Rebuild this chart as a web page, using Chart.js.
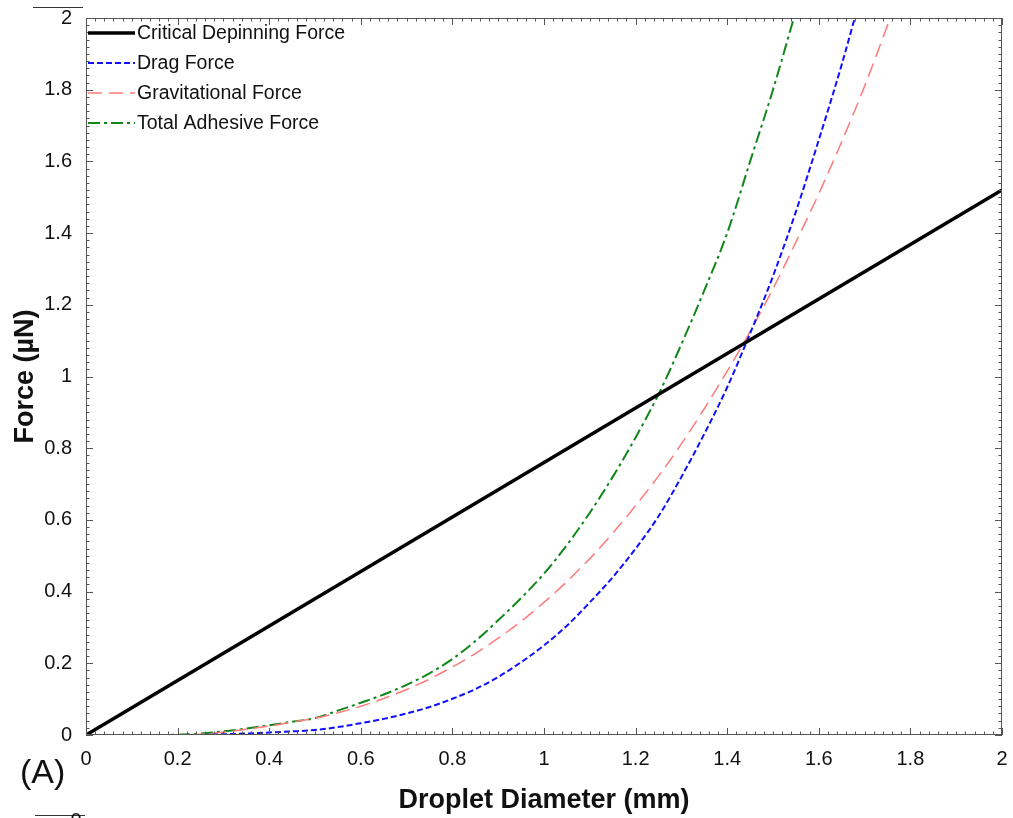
<!DOCTYPE html>
<html lang="en">
<head>
<meta charset="UTF-8">
<title>Forces vs Droplet Diameter</title>
<script src="https://cdn.jsdelivr.net/npm/chart.js"></script>
<style>
    body { margin: 0; background: #fff; }
    canvas { display: block; }
</style>
</head>
<body>
<canvas id="forceChart" width="1013" height="818"></canvas>
<script>
// droplet diameter (mm)
var diameter = [0, 0.05, 0.1, 0.15, 0.2, 0.25, 0.3, 0.35, 0.4, 0.45, 0.5, 0.55, 0.6, 0.65, 0.7, 0.75,
    0.8, 0.85, 0.9, 0.95, 1.0, 1.05, 1.1, 1.15, 1.2, 1.25, 1.3, 1.35, 1.4, 1.45, 1.5, 1.55,
    1.6, 1.65, 1.7, 1.75, 1.8];

// forces (uN)
var dragForce = [0, 0, 0, 0, 0, 0, 0.002, 0.004, 0.007, 0.01, 0.014, 0.022, 0.033, 0.045, 0.06, 0.078,
    0.101, 0.128, 0.162, 0.203, 0.25, 0.305, 0.37, 0.44, 0.52, 0.61, 0.72, 0.84, 0.97, 1.12, 1.28, 1.46,
    1.66, 1.87, 2.1, null, null];
var gravForce = [0, 0, 0, 0, 0, 0.002, 0.008, 0.016, 0.025, 0.036, 0.047, 0.062, 0.08, 0.102, 0.127, 0.156,
    0.19, 0.227, 0.27, 0.317, 0.37, 0.428, 0.492, 0.563, 0.64, 0.722, 0.812, 0.91, 1.015, 1.125, 1.245, 1.375,
    1.51, 1.655, 1.81, 1.98, 2.16];
var adhesiveForce = [0, 0, 0, 0, 0.001, 0.004, 0.01, 0.018, 0.027, 0.037, 0.047, 0.068, 0.09, 0.113, 0.14, 0.172,
    0.212, 0.262, 0.32, 0.382, 0.45, 0.53, 0.62, 0.72, 0.83, 0.95, 1.09, 1.24, 1.4, 1.6, 1.8, 2.02,
    2.24, null, null, null, null];

// critical depinning force is a straight line
var criticalX = [0, 2];
var criticalY = [0, 1.52];

var seriesNames = ['Critical Depinning Force', 'Drag Force', 'Gravitational Force', 'Total Adhesive Force'];

function pairs(xs, ys) {
    var out = [];
    for (var i = 0; i < xs.length; i++) out.push({ x: xs[i], y: ys[i] });
    return out;
}

// 2.0 -> "2", 0.2 -> "0.2"
function tickText(v) {
    return String(Number(v.toFixed(2)));
}

var FONT = 'Arial, "Liberation Sans", sans-serif';

// frame, inward minor/major ticks on all four sides, legend and panel letter
var decorations = {
    id: 'decorations',
    afterDraw: function (chart) {
        var ctx = chart.ctx;
        var a = chart.chartArea;
        var xs = chart.scales.x, ys = chart.scales.y;
        ctx.save();
        ctx.strokeStyle = '#555';
        ctx.lineWidth = 1;
        ctx.strokeRect(a.left + 0.5, a.top + 0.5, a.right - a.left - 1, a.bottom - a.top - 1);

        ctx.beginPath();
        for (var i = 0; i <= 100; i++) {
            var v = i * 0.02;
            var len = (i % 10 === 0) ? 7 : 3.5;
            var px = Math.round(xs.getPixelForValue(v)) + 0.5;
            ctx.moveTo(px, a.bottom); ctx.lineTo(px, a.bottom - len);
            ctx.moveTo(px, a.top); ctx.lineTo(px, a.top + len);
            var py = Math.round(ys.getPixelForValue(v)) + 0.5;
            ctx.moveTo(a.left, py); ctx.lineTo(a.left + len, py);
            ctx.moveTo(a.right, py); ctx.lineTo(a.right - len, py);
        }
        ctx.stroke();

        // legend
        var ds = chart.data.datasets;
        ctx.font = '19.5px ' + FONT;
        ctx.textBaseline = 'middle';
        ctx.fillStyle = '#111';
        for (var k = 0; k < ds.length; k++) {
            var y = 33 + k * 30;
            ctx.beginPath();
            ctx.strokeStyle = ds[k].borderColor;
            ctx.lineWidth = ds[k].borderWidth;
            ctx.setLineDash(ds[k].borderDash || []);
            ctx.moveTo(88, y); ctx.lineTo(135, y);
            ctx.stroke();
            ctx.setLineDash([]);
            ctx.fillText(ds[k].label, 137, y + 1);
        }

        // panel letter and neighbouring panel remnants
        ctx.font = '34px ' + FONT;
        ctx.fillText('(A)', 20, 774);
        ctx.strokeStyle = '#333';
        ctx.lineWidth = 1;
        ctx.beginPath();
        ctx.moveTo(33, 7.5); ctx.lineTo(83, 7.5);
        ctx.moveTo(35, 815.5); ctx.lineTo(85, 815.5);
        ctx.stroke();
        ctx.font = '20px ' + FONT;
        ctx.textAlign = 'center';
        ctx.fillText('0', 76, 821);
        ctx.restore();
    }
};

var ctx = document.getElementById('forceChart').getContext('2d');
var forceChart = new Chart(ctx, {
    type: 'line',
    data: {
        datasets: [{
            label: seriesNames[0],
            data: pairs(criticalX, criticalY),
            borderColor: '#000000',
            borderWidth: 3.5
        }, {
            label: seriesNames[1],
            data: pairs(diameter, dragForce),
            borderColor: '#1010ff',
            borderWidth: 2,
            borderDash: [6, 3]
        }, {
            label: seriesNames[2],
            data: pairs(diameter, gravForce),
            borderColor: '#ff7a7a',
            borderWidth: 1.5,
            borderDash: [14, 7]
        }, {
            label: seriesNames[3],
            data: pairs(diameter, adhesiveForce),
            borderColor: '#11871a',
            borderWidth: 2,
            borderDash: [12, 4, 3, 4]
        }]
    },
    options: {
        responsive: false,
        devicePixelRatio: 1,
        animation: false,
        spanGaps: false,
        layout: { padding: { left: 0, right: 11, top: 18, bottom: 0 } },
        elements: {
            point: { radius: 0 },
            line: { cubicInterpolationMode: 'monotone', fill: false }
        },
        datasets: { line: { clip: 0 } },
        plugins: {
            legend: { display: false },
            tooltip: { enabled: false }
        },
        scales: {
            x: {
                type: 'linear',
                min: 0,
                max: 2,
                grid: { display: false },
                border: { display: false },
                ticks: {
                    stepSize: 0.2,
                    padding: 4,
                    color: '#111',
                    maxRotation: 0,
                    font: { family: FONT, size: 20 },
                    callback: tickText
                },
                title: {
                    display: true,
                    text: 'Droplet Diameter (mm)',
                    color: '#111',
                    padding: { top: 0, bottom: 1 },
                    font: { family: FONT, size: 27, weight: 'bold' }
                },
                afterFit: function (scale) { scale.height = 83; }
            },
            y: {
                min: 0,
                max: 2,
                grid: { display: false },
                border: { display: false },
                ticks: {
                    stepSize: 0.2,
                    padding: 6,
                    color: '#111',
                    font: { family: FONT, size: 20 },
                    callback: tickText
                },
                title: {
                    display: true,
                    text: 'Force (µN)',
                    color: '#111',
                    padding: { top: 9, bottom: 0 },
                    font: { family: FONT, size: 27, weight: 'bold' }
                },
                afterFit: function (scale) { scale.width = 86; }
            }
        }
    },
    plugins: [decorations]
});
</script>
</body>
</html>
